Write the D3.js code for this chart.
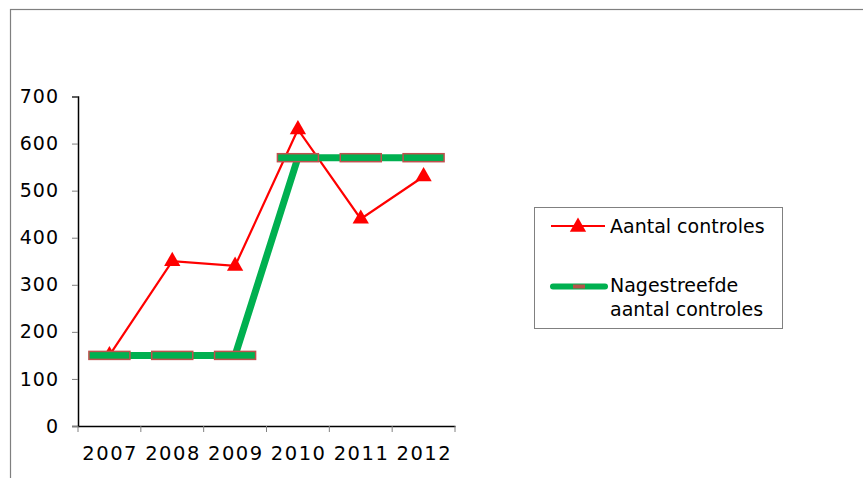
<!DOCTYPE html>
<html>
<head>
<meta charset="utf-8">
<script src="https://cdn.jsdelivr.net/npm/d3@7"></script>
<style>
    body { margin: 0; background: #fff; }
    text { font-family: "DejaVu Sans", sans-serif; fill: #000; }
</style>
</head>
<body>
<div id="chart"></div>
<script>
"use strict";

// data
const years = ["2007", "2008", "2009", "2010", "2011", "2012"];
const aantal = [150, 350, 340, 630, 440, 530];
const nagestreefd = [150, 150, 150, 570, 570, 570];
const yTicks = [0, 100, 200, 300, 400, 500, 600, 700];
const seriesNames = ["Aantal controles", "Nagestreefde\naantal controles"];

const width = 863, height = 478;

const svg = d3.select("#chart").append("svg")
    .attr("width", width)
    .attr("height", height);

// outer frame (right and bottom edges fall outside the picture)
svg.append("rect")
    .attr("x", 10.5).attr("y", 9.5)
    .attr("width", 900).attr("height", 500)
    .attr("fill", "none")
    .attr("stroke", "#7f7f7f")
    .attr("stroke-width", 1.2);

const x = d3.scaleBand().domain(years).range([78, 455]);
const y = d3.scaleLinear().domain([0, 700]).range([426, 96.5]);

// y axis
const yAxis = svg.append("g")
    .attr("transform", "translate(78,0)")
    .call(d3.axisLeft(y).tickValues(yTicks).tickSize(6).tickPadding(13));
yAxis.select(".domain").attr("stroke", "#000").attr("stroke-width", 1.5);
yAxis.selectAll(".tick line").attr("stroke", "#808080");
yAxis.selectAll("text")
    .style("font-size", "19px")
    .style("letter-spacing", "1px")
    .attr("fill", "#000");

// x axis with ticks at category boundaries
const xAxis = svg.append("g")
    .attr("transform", "translate(0,426)")
    .call(d3.axisBottom(x).tickSize(0).tickPadding(20));
xAxis.select(".domain").attr("stroke", "#000").attr("stroke-width", 1.5);
xAxis.selectAll("text")
    .style("font-size", "19.5px")
    .style("letter-spacing", "1.5px")
    .attr("dx", "0.75px")
    .attr("fill", "#000");
xAxis.selectAll(".bound")
    .data(years.concat(["end"]))
    .enter().append("line")
    .attr("class", "bound")
    .attr("x1", (d, i) => i < years.length ? x(d) : x.range()[1])
    .attr("x2", (d, i) => i < years.length ? x(d) : x.range()[1])
    .attr("y1", 0).attr("y2", 6)
    .attr("stroke", "#808080");

const cx = d => x(d) + x.bandwidth() / 2;
const line = d3.line().x((d, i) => cx(years[i])).y(d => y(d));

const red = "#ff0000", green = "#00b050", markerStroke = "#c0504d";
const tri = d3.symbol().type(d3.symbolTriangle).size(115);

// series 1: red line with triangles
svg.append("path")
    .datum(aantal)
    .attr("d", line)
    .attr("fill", "none")
    .attr("stroke", red)
    .attr("stroke-width", 2.2);
svg.selectAll(".tri")
    .data(aantal)
    .enter().append("path")
    .attr("class", "tri")
    .attr("d", tri)
    .attr("transform", (d, i) => `translate(${cx(years[i])},${y(d)})`)
    .attr("fill", red);

// series 2: thick green line with dash markers
svg.append("path")
    .datum(nagestreefd)
    .attr("d", line)
    .attr("fill", "none")
    .attr("stroke", green)
    .attr("stroke-width", 7);
svg.selectAll(".dash")
    .data(nagestreefd)
    .enter().append("rect")
    .attr("class", "dash")
    .attr("x", (d, i) => cx(years[i]) - 20.5)
    .attr("y", d => y(d) - 4)
    .attr("width", 41).attr("height", 8)
    .attr("fill", green)
    .attr("stroke", markerStroke)
    .attr("stroke-width", 1.5);

// legend
const legend = svg.append("g");
legend.append("rect")
    .attr("x", 534.5).attr("y", 207.5)
    .attr("width", 248).attr("height", 121)
    .attr("fill", "#fff")
    .attr("stroke", "#808080");

legend.append("line")
    .attr("x1", 551).attr("x2", 605).attr("y1", 226).attr("y2", 226)
    .attr("stroke", red).attr("stroke-width", 2);
legend.append("path")
    .attr("d", tri)
    .attr("transform", "translate(578,227)")
    .attr("fill", red);
legend.append("text")
    .attr("x", 610).attr("y", 233)
    .style("font-size", "19px")
    .text(seriesNames[0]);

legend.append("line")
    .attr("x1", 553).attr("x2", 605).attr("y1", 286.5).attr("y2", 286.5)
    .attr("stroke", green).attr("stroke-width", 6)
    .attr("stroke-linecap", "round");
legend.append("rect")
    .attr("x", 573).attr("y", 284.5).attr("width", 12).attr("height", 4)
    .attr("fill", "#b5534a");
legend.append("text")
    .attr("x", 610).attr("y", 292)
    .style("font-size", "19px")
    .selectAll("tspan")
    .data(seriesNames[1].split("\n"))
    .enter().append("tspan")
    .attr("x", 610)
    .attr("dy", (d, i) => i === 0 ? 0 : 24)
    .text(d => d);
</script>
</body>
</html>
